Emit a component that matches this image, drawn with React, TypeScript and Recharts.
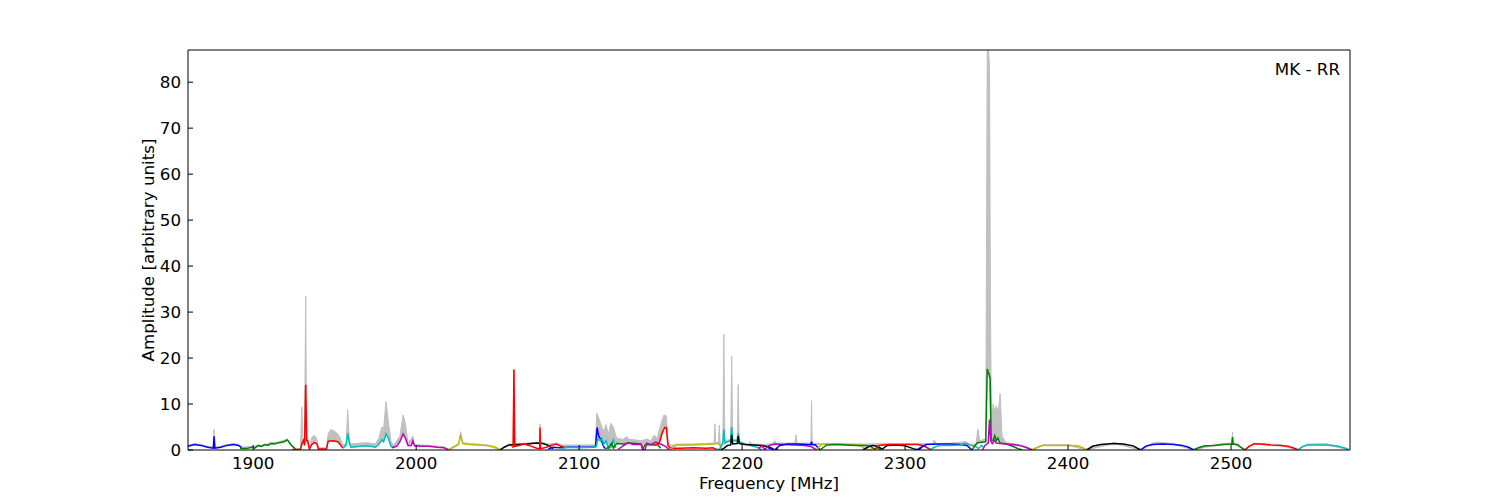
import React from 'react';
import { ComposedChart, Line, Area, XAxis, YAxis } from 'recharts';

// frequency [MHz], amplitude
const FREQ_TICKS = [1900, 2000, 2100, 2200, 2300, 2400, 2500];
const AMP_TICKS = [0, 10, 20, 30, 40, 50, 60, 70, 80];

// gray envelope: [freq, low, high]
const envelope: [number, number, number][] = [
  [1860, 0.8, 1.0], [1864, 1.2, 1.4], [1868, 1.0, 1.2], [1872, 0.6, 0.8], [1875.5, 0.4, 0.6],
  [1876, 0.5, 4.5], [1876.5, 0.4, 0.6], [1880, 0.6, 0.8], [1884, 1.0, 1.2], [1888, 1.2, 1.4],
  [1891, 1.0, 1.2], [1893, 0.4, 0.6], [1899, 0.6, 0.8], [1905, 0.8, 1.0], [1911, 1.4, 1.6],
  [1916, 1.6, 1.8], [1921, 2.2, 2.4], [1923, 1.2, 1.4], [1926, 0.1, 0.3], [1929, 0.1, 0.3],
  [1929.8, 1.0, 9.4], [1930.5, 1.5, 2.5], [1931.5, 1.0, 2.0], [1932.2, 2.0, 33.5], [1932.8, 2.0, 3.0],
  [1934.5, 0.2, 0.5], [1936, 1.2, 2.8], [1937.5, 1.6, 3.2], [1939, 1.4, 2.5], [1940, 0.2, 0.5],
  [1945, 0.2, 0.5], [1946, 1.9, 3.5], [1947.5, 2.0, 4.4], [1949, 2.0, 4.3], [1951, 1.9, 3.8],
  [1953, 1.6, 3.0], [1955, 0.4, 1.0], [1957, 1.0, 1.5], [1958, 3.6, 8.7], [1959, 1.5, 2.0],
  [1960, 0.6, 1.3], [1966, 0.8, 1.5], [1970, 0.9, 1.6], [1975, 0.6, 1.3], [1977, 1.2, 2.5],
  [1979, 2.2, 5.0], [1980, 1.8, 4.5], [1981.5, 3.5, 10.6], [1983, 2.5, 6.0], [1984.5, 0.8, 2.0],
  [1986, 0.5, 1.0], [1990, 1.8, 3.0], [1992, 3.5, 7.6], [1993.5, 2.5, 5.5], [1995, 1.0, 1.5],
  [1998, 2.0, 3.0], [1999, 0.9, 1.2], [2008, 0.8, 1.0], [2017, 0.5, 0.7], [2020, 0.0, 0.2],
  [2026, 1.2, 1.4], [2027.3, 3.3, 4.0], [2028.5, 1.4, 1.6], [2044, 0.9, 1.1], [2051.5, 0.0, 0.2],
  [2057, 1.1, 1.3], [2059.5, 0.5, 1.2], [2060, 1.0, 17.6], [2060.5, 0.8, 1.3], [2068, 1.3, 1.5],
  [2074, 1.5, 1.7], [2075.8, 1.4, 1.6], [2076, 1.4, 5.7], [2076.3, 1.4, 1.6], [2081, 1.0, 1.3],
  [2086, 1.3, 1.5], [2090, 0.6, 1.1], [2100, 0.6, 1.1], [2110, 0.7, 1.1], [2110.8, 2.0, 8.0],
  [2112, 3.0, 7.0], [2113.5, 2.2, 5.5], [2115, 1.2, 4.0], [2116.5, 2.0, 5.5], [2118, 0.5, 3.5],
  [2119.5, 0.6, 5.8], [2121, 2.2, 5.0], [2123, 1.4, 2.6], [2127, 1.3, 2.3], [2129, 1.5, 2.9],
  [2131, 1.5, 2.3], [2135, 1.4, 2.2], [2138, 1.3, 2.0], [2141.5, 1.5, 2.4], [2144, 1.2, 2.0],
  [2146, 1.2, 3.2], [2148, 1.7, 2.6], [2150, 2.0, 5.5], [2152, 4.5, 7.6], [2153.5, 4.9, 7.4],
  [2154.5, 1.0, 2.0], [2156, 0.4, 1.0], [2160, 1.1, 1.3], [2170, 1.1, 1.3], [2182, 1.3, 1.5],
  [2182.8, 1.3, 1.5], [2183.3, 1.3, 5.7], [2183.8, 1.3, 1.5], [2185.5, 1.4, 1.6], [2186, 1.4, 5.4],
  [2186.5, 1.0, 1.4], [2187.5, 0.8, 1.3], [2188.2, 1.5, 2.0], [2188.8, 4.5, 25.2], [2189.4, 1.5, 2.0],
  [2193, 2.0, 2.3], [2193.6, 5.0, 20.4], [2194.2, 2.0, 2.3], [2197, 2.0, 2.3], [2197.6, 3.6, 14.2],
  [2198.2, 1.6, 2.0], [2202, 1.2, 1.4], [2204, 1.1, 1.3], [2204.8, 1.1, 1.8], [2205.6, 1.1, 1.3],
  [2215, 0.9, 1.2], [2219, 1.3, 1.5], [2220, 1.3, 2.0], [2221, 1.3, 1.5], [2232.3, 1.3, 1.5],
  [2233, 1.3, 3.3], [2233.7, 1.3, 1.5], [2242.2, 1.2, 1.5], [2242.6, 1.8, 10.7], [2243, 1.2, 1.5],
  [2248, 1.2, 1.4], [2260, 1.2, 1.4], [2275, 1.0, 1.3], [2290, 1.2, 1.4], [2308, 1.2, 1.4],
  [2317, 1.2, 1.4], [2318, 1.2, 2.2], [2319, 1.2, 1.4], [2330, 1.2, 1.5], [2337, 1.5, 1.8],
  [2340, 1.0, 1.3], [2343.5, 1.0, 1.3], [2344.7, 1.6, 4.5], [2345.8, 1.6, 2.0], [2349.5, 1.8, 2.5],
  [2350.4, 17.6, 87], [2351.2, 16.5, 87], [2351.8, 15.5, 83.5], [2352.4, 6.6, 30], [2353, 2.2, 5.0],
  [2354, 2.0, 10.0], [2355, 3.1, 8.5], [2356, 2.0, 9.6], [2357.2, 2.6, 8.0], [2358.3, 1.6, 12.3],
  [2359.5, 1.5, 3.0], [2362, 1.3, 1.6], [2370, 1.0, 1.2], [2378, 0.0, 0.2], [2385, 1.0, 1.2],
  [2400, 1.0, 1.2], [2411.5, 0.0, 0.2], [2428, 1.4, 1.6], [2444.5, 0.0, 0.2], [2452, 1.2, 1.5],
  [2456, 1.3, 1.7], [2465, 1.2, 1.4], [2477, 0.0, 0.2], [2490, 1.0, 1.2], [2500.5, 1.3, 1.5],
  [2500.9, 2.8, 3.9], [2501.3, 1.3, 1.5], [2508.5, 0.0, 0.2], [2514, 1.3, 1.5], [2530, 1.0, 1.2],
  [2541, 0.0, 0.2], [2547, 1.1, 1.3], [2558, 1.1, 1.4], [2572, 0.1, 0.3],
];

// band segments: [freq, amplitude]
const band01 = [[1860, 0.8], [1864, 1.2], [1868, 1.0], [1872, 0.6], [1875.5, 0.4], [1876, 3.0], [1876.5, 0.4], [1880, 0.6], [1884, 1.0], [1888, 1.2], [1891, 1.0], [1893, 0.5]];
const band02 = [[1892, 0.3], [1896, 0.3], [1899, 0.6], [1901, 0.4], [1903, 1.0], [1905, 0.8], [1907, 1.2], [1909, 1.0], [1911, 1.4], [1913, 1.3], [1916, 1.6], [1919, 1.8], [1921, 2.2], [1923, 1.2], [1926, 0.2]];
const band03 = [[1924, 0.1], [1929, 0.1], [1930, 1.5], [1931, 2.2], [1931.5, 1.0], [1932.2, 14.2], [1932.8, 2.0], [1933.5, 2.0], [1934.5, 0.2], [1936, 1.2], [1937.5, 1.6], [1939, 1.4], [1940, 0.2], [1945, 0.2], [1946, 1.9], [1949, 2.0], [1952, 1.8], [1955, 0.4]];
const band04 = [[1955, 0.4], [1957, 1.0], [1958, 3.6], [1959, 1.5], [1960, 0.6], [1963, 0.7], [1966, 0.8], [1969, 0.9], [1972, 0.8], [1975, 0.6], [1977, 1.2], [1979, 2.2], [1980, 1.8], [1981.5, 3.5], [1983, 2.5], [1984.5, 0.8], [1986, 0.5]];
const band05 = [[1985, 0.5], [1988, 0.8], [1990, 1.8], [1992, 3.5], [1993.5, 2.5], [1995, 1.0], [1997, 1.0], [1998, 2.0], [1999, 0.9], [2003, 0.8], [2008, 0.8], [2013, 0.6], [2017, 0.5], [2020, 0.0]];
const band06 = [[2020, 0.0], [2023, 0.6], [2026, 1.2], [2027.3, 3.3], [2028.5, 1.4], [2032, 1.2], [2038, 1.1], [2044, 0.9], [2048, 0.7], [2051.5, 0.0]];
const band07 = [[2051.5, 0.0], [2054, 0.6], [2057, 1.1], [2062, 1.2], [2068, 1.3], [2074, 1.5], [2078, 1.4], [2081, 1.0], [2084, 0.3]];
const band08 = [[2059.5, 0.5], [2060, 17.5], [2060.5, 0.8], [2063, 1.0], [2066, 1.3], [2070, 0.9], [2074, 0.4], [2075.8, 0.3], [2076, 4.9], [2076.3, 0.3], [2080, 0.6], [2083, 1.0], [2086, 1.3], [2089, 0.8], [2091, 0.6]];
const band09 = [[2081, 0.2], [2084, 0.6], [2088, 0.5], [2094, 0.6], [2100, 0.6], [2106, 0.6], [2110, 0.7], [2111, 4.9], [2112, 3.0], [2113.5, 2.2], [2115, 0.8], [2116, 0.3]];
const band10 = [[2089, 0.3], [2092, 0.6], [2100, 0.5], [2108, 0.6], [2110.5, 0.8], [2111.5, 2.4], [2113, 2.0], [2114, 2.5], [2115, 1.2], [2116.5, 2.0], [2118, 0.3], [2119.5, 0.6], [2121, 2.2], [2122.5, 0.5]];
const band11 = [[2116, 0.3], [2118, 0.5], [2120, 1.5], [2121, 0.4], [2123, 1.4], [2127, 1.3], [2131, 1.5], [2135, 1.4], [2138, 1.3], [2139, 0.1], [2140.5, 1.2], [2145, 1.1], [2148, 1.2], [2150, 0.4]];
const band12 = [[2124, 0.2], [2127, 0.9], [2130, 1.6], [2133, 1.2], [2137, 1.2], [2138.5, 1.1], [2139, 0.0], [2140.5, 0.1], [2141.5, 1.5], [2144, 1.2], [2147, 1.7], [2150, 1.3], [2153, 0.8], [2155.5, 0.0]];
const band13 = [[2146, 1.0], [2149, 1.4], [2151, 3.8], [2152.5, 4.9], [2153.5, 4.9], [2154.5, 1.0], [2156, 0.4], [2162, 0.4], [2170, 0.5], [2178, 0.4], [2182, 0.5], [2184, 0.2]];
const band14 = [[2155.5, 0.0], [2158, 0.7], [2160, 1.1], [2168, 1.1], [2176, 1.2], [2182, 1.3], [2185, 1.5], [2186.5, 1.0], [2187.5, 0.0]];
const band15 = [[2184, 0.2], [2186, 0.1], [2188.2, 1.5], [2188.8, 4.5], [2189.4, 1.5], [2191, 1.8], [2193, 2.0], [2193.6, 5.0], [2194.2, 2.0], [2197, 2.0], [2197.6, 3.6], [2198.5, 1.6], [2201, 1.3], [2205, 1.0], [2210, 0.5], [2212, 0.0]];
const band16 = [[2187, 0.0], [2189, 0.4], [2191, 1.0], [2193, 1.1], [2193.6, 3.3], [2194.2, 1.3], [2197, 1.4], [2197.6, 3.0], [2198.2, 1.4], [2202, 1.2], [2207, 1.1], [2212, 1.0], [2217, 0.6], [2220, 0.0], [2222, 0.3]];
const band17 = [[2210, 0.3], [2212, 0.9], [2214, 0.1], [2216, 0.9], [2220, 1.3], [2226, 1.2], [2232, 1.1], [2238, 1.0], [2242, 0.8], [2245, 0.2], [2246, 0.0]];
const band18 = [[2216, 0.5], [2220, 0.0], [2223, 1.0], [2228, 1.3], [2234, 1.3], [2240, 1.2], [2242.3, 1.2], [2242.6, 1.8], [2243, 1.2], [2245, 1.1], [2248, 0.0]];
const band19 = [[2245.5, 0.0], [2248.7, 1.2], [2255, 1.3], [2262, 1.2], [2268, 1.1], [2272, 1.0], [2275, 0.4], [2278, 0.0], [2280, 0.3]];
const band20 = [[2247.7, 0.0], [2252, 1.1], [2258, 1.2], [2264, 1.1], [2270, 1.0], [2275, 1.0], [2279, 0.8], [2281, 0.2], [2283, 0.5], [2285, 0.0]];
const band21 = [[2274, 0.0], [2277, 0.6], [2280, 1.0], [2283, 0.8], [2286, 0.2], [2289, 1.0], [2295, 1.1], [2300, 0.9], [2305, 0.3], [2308, 0.0], [2310, 0.4]];
const band22 = [[2281, 0.0], [2284, 1.0], [2290, 1.2], [2296, 1.2], [2302, 1.2], [2308, 1.2], [2312, 0.8], [2316, 0.0]];
const band23 = [[2307, 0.0], [2310, 0.6], [2313, 1.2], [2320, 1.3], [2328, 1.3], [2334, 1.2], [2338, 1.0], [2341, 0.0]];
const band24 = [[2315, 0.0], [2318, 0.6], [2321, 1.0], [2328, 1.0], [2334, 1.1], [2337, 1.5], [2340, 1.0], [2343, 0.8], [2345, 0.3], [2347, 1.0], [2348, 0.6]];
const band25 = [[2341, 0.0], [2343, 1.0], [2344.5, 1.6], [2347, 1.7], [2349.5, 1.8], [2350.4, 17.6], [2351.5, 16.5], [2352.2, 15.5], [2352.8, 2.2], [2354, 2.0], [2355, 3.1], [2356, 2.0], [2357, 2.6], [2358, 1.6], [2362, 1.3], [2366, 0.8], [2370, 0.2], [2372, 0.0]];
const band26 = [[2347.5, 0.0], [2349, 1.0], [2351, 1.5], [2351.8, 6.6], [2352.5, 2.0], [2353.5, 1.4], [2355, 2.1], [2356, 1.5], [2358, 1.4], [2362, 1.3], [2366, 1.2], [2370, 1.0], [2374, 0.6], [2378, 0.0]];
const band27 = [[2378, 0.0], [2382, 0.7], [2385, 1.0], [2392, 1.0], [2400, 1.0], [2406, 0.9], [2409, 0.5], [2411.5, 0.0]];
const band28 = [[2411.5, 0.0], [2415, 0.8], [2420, 1.2], [2428, 1.4], [2434, 1.3], [2440, 0.9], [2444.5, 0.0]];
const band29 = [[2444.5, 0.0], [2448, 0.9], [2452, 1.2], [2458, 1.3], [2465, 1.2], [2470, 1.0], [2474, 0.6], [2477, 0.0]];
const band30 = [[2477, 0.0], [2480, 0.5], [2484, 0.9], [2490, 1.0], [2495, 1.2], [2500.5, 1.3], [2500.9, 2.8], [2501.3, 1.3], [2504, 1.2], [2506, 0.6], [2508.5, 0.0]];
const band31 = [[2508.5, 0.0], [2511, 0.8], [2514, 1.3], [2518, 1.3], [2524, 1.1], [2530, 1.0], [2535, 0.8], [2538, 0.5], [2541, 0.0]];
const band32 = [[2541, 0.0], [2544, 0.8], [2547, 1.1], [2552, 1.1], [2558, 1.1], [2562, 1.0], [2566, 0.8], [2569, 0.5], [2572, 0.1]];

const BANDS = [
  band01, band02, band03, band04, band05, band06, band07, band08,
  band09, band10, band11, band12, band13, band14, band15, band16,
  band17, band18, band19, band20, band21, band22, band23, band24,
  band25, band26, band27, band28, band29, band30, band31, band32,
];
// matplotlib classic colour letter per band
const BAND_COLORS = [
  'b', 'g', 'r', 'c', 'm', 'y', 'k', 'r',
  'b', 'c', 'g', 'm', 'r', 'y', 'c', 'k',
  'm', 'b', 'y', 'g', 'k', 'r', 'b', 'c',
  'g', 'm', 'y', 'k', 'b', 'g', 'r', 'c',
];

const MPL: Record<string, string> = {
  b: '#0000ff', g: '#008000', r: '#ff0000', c: '#00bfbf',
  m: '#bf00bf', y: '#bfbf00', k: '#000000',
};

const FONT = 'DejaVu Sans';
const FS = 16.7;
const X_DOMAIN: [number, number] = [1860, 2573];
const Y_DOMAIN: [number, number] = [0, 87];

export default function App() {
  const envData = envelope.map(([f, lo, hi]) => ({ f, range: [lo, hi], hi }));
  const bandData = BANDS.map((b) => b.map(([f, a]) => ({ f, a })));
  const tickStyle = { fill: '#000', fontSize: FS, fontFamily: FONT };

  return (
    <div style={{ position: 'relative', width: 1500, height: 500, background: '#fff' }}>
      <style>{'body { margin: 0; }'}</style>
      <ComposedChart
        width={1500}
        height={500}
        margin={{ top: 49, right: 149, bottom: 0, left: 108 }}
        style={{ fontFamily: FONT }}
      >
        <XAxis
          dataKey="f"
          type="number"
          domain={X_DOMAIN}
          allowDataOverflow
          ticks={FREQ_TICKS}
          height={50}
          tickSize={-5}
          tickMargin={12}
          tick={tickStyle}
          axisLine={{ stroke: '#000' }}
          tickLine={{ stroke: '#000' }}
          label={{ value: 'Frequency [MHz]', position: 'insideBottom', offset: 11, fill: '#000', fontSize: FS, fontFamily: FONT }}
        />
        <XAxis
          xAxisId="top"
          orientation="top"
          dataKey="f"
          type="number"
          domain={X_DOMAIN}
          allowDataOverflow
          ticks={FREQ_TICKS}
          height={1}
          tickSize={-5}
          tick={false}
          axisLine={{ stroke: '#000' }}
          tickLine={{ stroke: '#000' }}
        />
        <YAxis
          type="number"
          domain={Y_DOMAIN}
          allowDataOverflow
          ticks={AMP_TICKS}
          width={80}
          tickSize={-5}
          tickMargin={12}
          tick={tickStyle}
          axisLine={{ stroke: '#000' }}
          tickLine={{ stroke: '#000' }}
          label={{ value: 'Amplitude [arbitrary units]', angle: -90, position: 'center', fill: '#000', fontSize: FS, fontFamily: FONT }}
        />
        <YAxis
          yAxisId="right"
          orientation="right"
          type="number"
          domain={Y_DOMAIN}
          allowDataOverflow
          ticks={AMP_TICKS}
          width={1}
          tickSize={-5}
          tick={false}
          axisLine={{ stroke: '#000' }}
          tickLine={{ stroke: '#000' }}
        />
        {/* invisible series that binds the top and right frame axes */}
        <Line
          xAxisId="top"
          yAxisId="right"
          data={envData}
          dataKey="hi"
          stroke="none"
          dot={false}
          activeDot={false}
          legendType="none"
          isAnimationActive={false}
        />
        <Area
          data={envData}
          dataKey="range"
          type="linear"
          stroke="#c0c0c0"
          strokeWidth={1}
          fill="#c0c0c0"
          fillOpacity={1}
          dot={false}
          activeDot={false}
          isAnimationActive={false}
        />
        {bandData.map((d, i) => (
          <Line
            key={i}
            data={d}
            dataKey="a"
            type="linear"
            stroke={MPL[BAND_COLORS[i]]}
            strokeWidth={1.5}
            dot={false}
            activeDot={false}
            isAnimationActive={false}
          />
        ))}
      </ComposedChart>
      <div
        style={{
          position: 'absolute',
          top: 59,
          right: 160,
          fontFamily: FONT,
          fontSize: FS,
          color: '#000',
          lineHeight: '20px',
        }}
      >
        MK - RR
      </div>
    </div>
  );
}
